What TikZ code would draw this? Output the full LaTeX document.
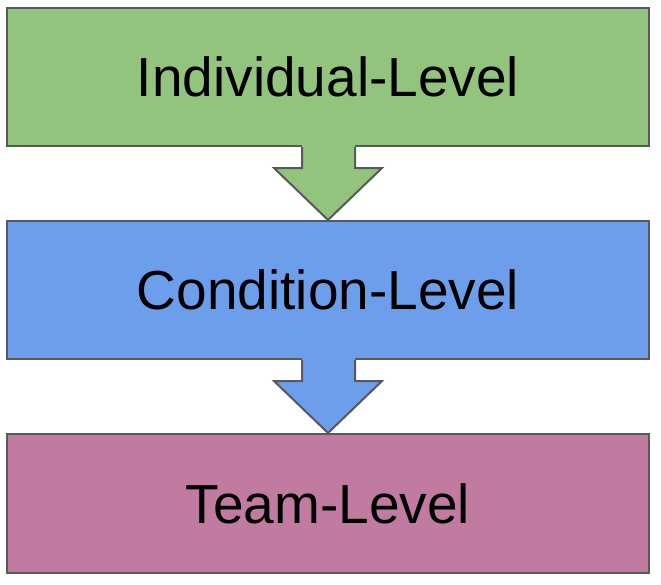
\documentclass[tikz,border=0pt]{standalone}
\usepackage{fontspec}
\setmainfont{Liberation Sans}
\definecolor{cgreen}{HTML}{93C47D}
\definecolor{cblue}{HTML}{6D9EEB}
\definecolor{cpink}{HTML}{C27BA0}
\definecolor{cedge}{HTML}{595959}
\begin{document}
\begin{tikzpicture}[x=1pt,y=-1pt,
  levelbox/.style={draw=cedge,line width=2pt,minimum width=642pt,inner sep=0pt,font=\fontsize{55}{60}\selectfont},
  arrowedge/.style={draw=cedge,line width=2pt,line join=miter}]
\useasboundingbox (0,0) rectangle (661,584);
\node[levelbox,fill=cgreen,minimum height=138pt] (b1) at (328,77) {Individual-Level};
\node[levelbox,fill=cblue,minimum height=138pt] (b2) at (328,290) {Condition-Level};
\node[levelbox,fill=cpink,minimum height=139pt] (b3) at (328,503.5) {Team-Level};
% arrow 1
\fill[cgreen] ([xshift=-26pt,yshift=2pt]b1.south) -- ([xshift=-26pt,yshift=-21pt]b1.south) -- ([xshift=-54pt,yshift=-21pt]b1.south) -- (b2.north) -- ([xshift=54pt,yshift=-21pt]b1.south) -- ([xshift=27pt,yshift=-21pt]b1.south) -- ([xshift=27pt,yshift=2pt]b1.south) -- cycle;
\draw[arrowedge] ([xshift=-26pt]b1.south) -- ([xshift=-26pt,yshift=-21pt]b1.south) -- ([xshift=-54pt,yshift=-21pt]b1.south) -- (b2.north) -- ([xshift=54pt,yshift=-21pt]b1.south) -- ([xshift=27pt,yshift=-21pt]b1.south) -- ([xshift=27pt]b1.south);
% arrow 2
\fill[cblue] ([xshift=-26pt,yshift=2pt]b2.south) -- ([xshift=-26pt,yshift=-21pt]b2.south) -- ([xshift=-54pt,yshift=-21pt]b2.south) -- (b3.north) -- ([xshift=54pt,yshift=-21pt]b2.south) -- ([xshift=27pt,yshift=-21pt]b2.south) -- ([xshift=27pt,yshift=2pt]b2.south) -- cycle;
\draw[arrowedge] ([xshift=-26pt]b2.south) -- ([xshift=-26pt,yshift=-21pt]b2.south) -- ([xshift=-54pt,yshift=-21pt]b2.south) -- (b3.north) -- ([xshift=54pt,yshift=-21pt]b2.south) -- ([xshift=27pt,yshift=-21pt]b2.south) -- ([xshift=27pt]b2.south);
\end{tikzpicture}
\end{document}
